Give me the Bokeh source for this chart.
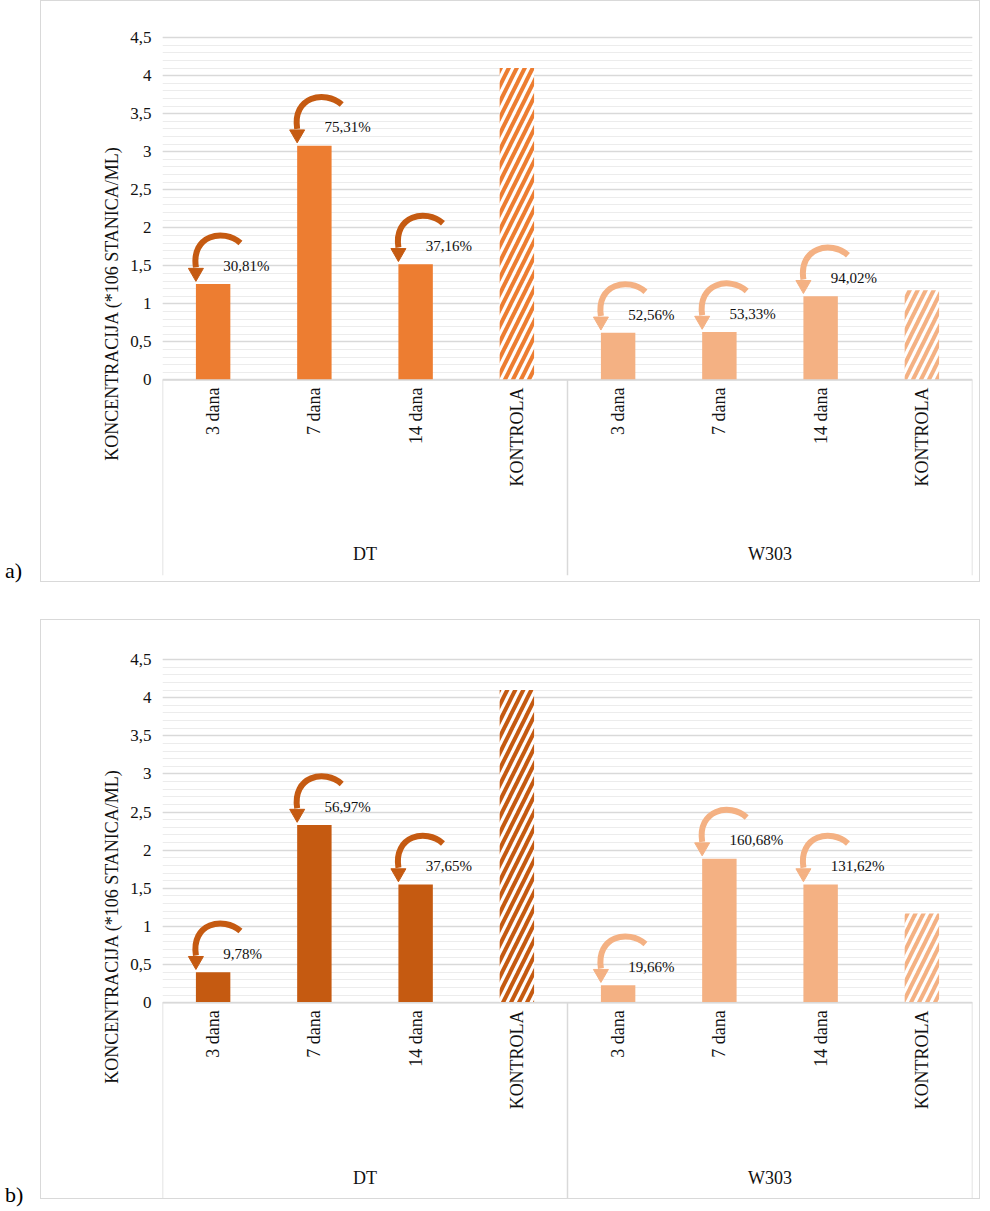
import math
from bokeh.plotting import figure
from bokeh.models import FixedTicker, Div, Spacer
from bokeh.layouts import column, row
from bokeh.core.properties import value
from bokeh.embed import file_html
from bokeh.resources import INLINE

categories = ["3 dana", "7 dana", "14 dana", "KONTROLA"]
groups = ["DT", "W303"]

a_dt = [1.26, 3.08, 1.52, 4.10]
a_w303 = [0.62, 0.63, 1.10, 1.18]
a_dt_pct = ["30,81%", "75,31%", "37,16%"]
a_w303_pct = ["52,56%", "53,33%", "94,02%"]

b_dt = [0.40, 2.33, 1.55, 4.10]
b_w303 = [0.23, 1.89, 1.55, 1.17]
b_dt_pct = ["9,78%", "56,97%", "37,65%"]
b_w303_pct = ["19,66%", "160,68%", "131,62%"]

y_ticks = [0, 0.5, 1, 1.5, 2, 2.5, 3, 3.5, 4, 4.5]
y_labels = {t: ("%g" % t).replace(".", ",") for t in y_ticks}

FONT = "'Liberation Serif', 'Times New Roman', 'DejaVu Serif', serif"
GRID = "#d9d9d9"


def arrows(p, xs, hs, labels, color):
    x0 = [c + 0.27 for c in xs]
    y0 = [h + 0.54 for h in hs]
    cx0 = [c + 0.10 for c in xs]
    cy0 = [h + 0.74 for h in hs]
    cx1 = [c - 0.22 for c in xs]
    cy1 = [h + 0.64 for h in hs]
    x1 = [c - 0.17 for c in xs]
    y1 = [h + 0.22 for h in hs]
    p.bezier(x0=x0, y0=y0, x1=x1, y1=y1, cx0=cx0, cy0=cy0, cx1=cx1, cy1=cy1,
             line_color=color, line_width=6)
    p.scatter(x=x1, y=[h + 0.15 for h in hs], marker="triangle", angle=math.pi,
              size=15, fill_color=color, line_color=color)
    p.text(x=[c + 0.1 for c in xs], y=[h + 0.24 for h in hs], text=labels,
           text_font=value(FONT), text_font_size="15px", text_color="#111111",
           text_align="left", text_baseline="middle")


def chart(dt, w303, dt_pct, w303_pct, dt_color, w_color, arrow_dt, y_lo, height, top, bottom):
    p = figure(width=940, height=height, x_range=(0, 8), y_range=(y_lo, 4.58),
               output_backend="svg", toolbar_location=None,
               min_border_left=121, min_border_right=9, min_border_top=top,
               min_border_bottom=bottom)
    p.outline_line_color = None
    p.xaxis.visible = False
    p.xgrid.visible = False
    p.styles = {"border": "1.5px solid #d9d9d9"}

    p.yaxis.ticker = FixedTicker(ticks=y_ticks, minor_ticks=[i / 10 for i in range(46)])
    p.yaxis.bounds = (0, 4.5)
    p.yaxis.major_label_overrides = y_labels
    p.yaxis.axis_line_color = None
    p.yaxis.major_tick_line_color = None
    p.yaxis.minor_tick_line_color = None
    p.yaxis.major_label_text_font = FONT
    p.yaxis.major_label_text_font_size = "17px"
    p.yaxis.major_label_text_color = "#111111"
    p.yaxis.axis_label = "KONCENTRACIJA (*106 STANICA/ML)"
    p.yaxis.axis_label_text_font = FONT
    p.yaxis.axis_label_text_font_style = "normal"
    p.yaxis.axis_label_text_font_size = "18px"
    p.yaxis.axis_label_text_color = "#111111"
    p.ygrid.bounds = (0, 4.5)
    p.ygrid.grid_line_color = GRID
    p.ygrid.grid_line_width = 1.5
    p.ygrid.minor_grid_line_color = "#ececec"
    p.ygrid.minor_grid_line_width = 1

    xs_dt = [i + 0.5 for i in range(4)]
    xs_w = [i + 4.5 for i in range(4)]
    p.vbar(x=xs_dt[:3], top=dt[:3], width=0.34, fill_color=dt_color, line_color=None)
    p.vbar(x=xs_w[:3], top=w303[:3], width=0.34, fill_color=w_color, line_color=None)
    p.vbar(x=[xs_dt[3]], top=[dt[3]], width=0.34, fill_color="white", line_color=None,
           hatch_pattern="/", hatch_color=dt_color, hatch_weight=4, hatch_scale=16)
    p.vbar(x=[xs_w[3]], top=[w303[3]], width=0.34, fill_color="white", line_color=None,
           hatch_pattern="/", hatch_color=w_color, hatch_weight=4, hatch_scale=16)

    arrows(p, xs_dt[:3], dt[:3], dt_pct, arrow_dt)
    arrows(p, xs_w[:3], w303[:3], w303_pct, w_color)

    # category box
    p.segment(x0=[0], y0=[0], x1=[8], y1=[0], line_color=GRID, line_width=1.5)
    p.segment(x0=[0, 4, 8], y0=[0, 0, 0], x1=[0, 4, 8], y1=[y_lo] * 3,
              line_color=GRID, line_width=1.5)
    p.text(x=xs_dt + xs_w, y=[-0.1] * 8, text=categories * 2, angle=math.pi / 2,
           text_font=value(FONT), text_font_size="18px", text_color="#111111",
           text_align="right", text_baseline="middle")
    p.text(x=[2, 6], y=[y_lo + 0.28] * 2, text=groups,
           text_font=value(FONT), text_font_size="18px", text_color="#111111",
           text_align="center", text_baseline="middle")
    return p


def tag(txt, h):
    return Div(text=txt, width=30, height=22,
               styles={"font-family": FONT, "font-size": "22px", "margin-top": "%dpx" % h})


p1 = chart(a_dt, a_w303, a_dt_pct, a_w303_pct, "#ED7D31", "#F4B183", "#C55A11", -2.57, 582, 30, 8)
p2 = chart(b_dt, b_w303, b_dt_pct, b_w303_pct, "#C55A11", "#F4B183", "#C55A11", -2.58, 580, 33, 1)

layout = column(row(tag("a)", 555), p1), Spacer(height=37), row(tag("b)", 560), p2),
                spacing=0)
open("out.html", "w").write(file_html(layout, INLINE))
